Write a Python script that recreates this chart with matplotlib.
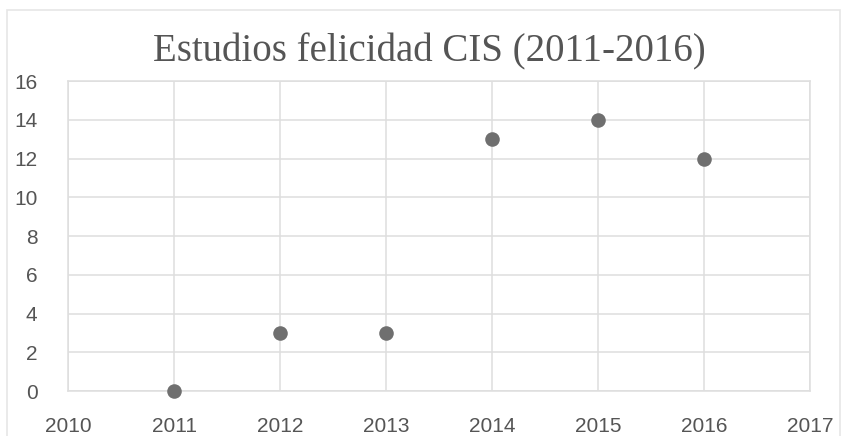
import matplotlib
matplotlib.use("Agg")
import matplotlib.pyplot as plt
from matplotlib.patches import Rectangle

# datos
years = [2011, 2012, 2013, 2014, 2015, 2016]
estudios = [0, 3, 3, 13, 14, 12]
xticks = [2010, 2011, 2012, 2013, 2014, 2015, 2016, 2017]
yticks = [0, 2, 4, 6, 8, 10, 12, 14, 16]
titulo = "Estudios felicidad CIS (2011-2016)"

W, H = 841, 436
fig = plt.figure(figsize=(W / 100, H / 100), dpi=100)
fig.patch.set_facecolor("white")

# marco exterior del grafico
fig.patches.append(Rectangle((7 / W, -0.02), 833 / W, 1.0 - 10 / H + 0.02,
                             transform=fig.transFigure, fill=False,
                             edgecolor="#e6e6e6", linewidth=1.2))

ax = fig.add_axes([68 / W, 45 / H, 742 / W, 310 / H])
ax.scatter(years, estudios, s=110, color="#6f6f6f", zorder=3, linewidths=0,
           clip_on=False)

ax.set_xlim(2010, 2017)
ax.set_ylim(0, 16)
ax.set_xticks(xticks)
ax.set_yticks(yticks)
ax.grid(True, color="#dedede", linewidth=1.1)
ax.set_axisbelow(True)
for s in ax.spines.values():
    s.set_color("#dedede")
    s.set_linewidth(1.1)
ax.tick_params(length=0, labelsize=15, labelcolor="#555555")
ax.tick_params(axis="x", pad=19)
ax.tick_params(axis="y", pad=22)
for lab in ax.get_xticklabels() + ax.get_yticklabels():
    lab.set_fontfamily("Liberation Sans")

fig.text(429 / W, 1 - 52 / H, titulo, ha="center", va="center",
         fontsize=28, fontfamily="Liberation Serif", color="#555555")

plt.savefig("out.png", dpi=100)
plt.close("all")
